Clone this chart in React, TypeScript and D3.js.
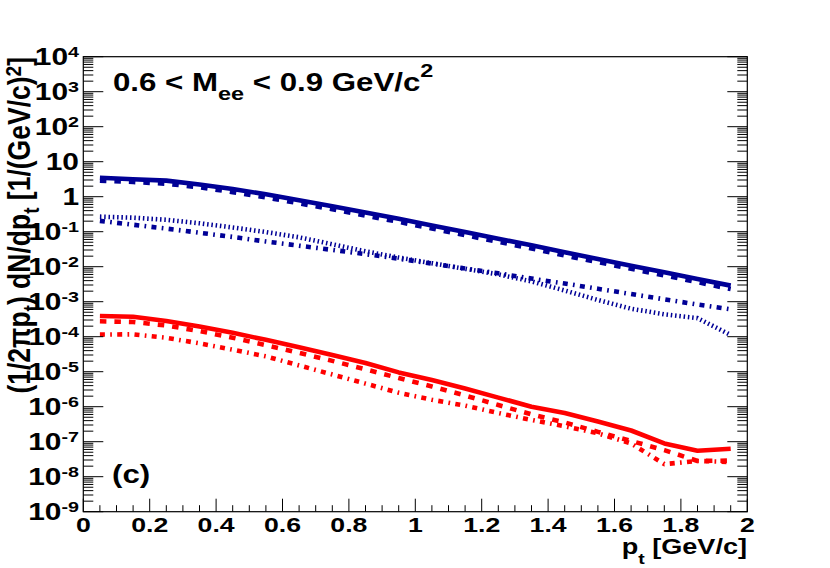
import * as d3 from "d3";

// bin centres in p_t [GeV/c]
const PT = [0.05, 0.15, 0.25, 0.35, 0.45, 0.55, 0.65, 0.75, 0.85, 0.95, 1.05, 1.15, 1.25, 1.35, 1.45, 1.55, 1.65, 1.75, 1.85, 1.95];

const BLUE_SOLID = [3.47, 3.16, 2.88, 2.24, 1.66, 1.17, 0.794, 0.537, 0.355, 0.234, 0.151, 0.0977, 0.0631, 0.0407, 0.0257, 0.0166, 0.0107, 0.00692, 0.00447, 0.00288];
const BLUE_DASHED = [2.88, 2.63, 2.34, 1.86, 1.35, 0.955, 0.646, 0.437, 0.288, 0.191, 0.123, 0.0794, 0.0513, 0.0331, 0.0209, 0.0135, 0.00871, 0.00562, 0.00363, 0.00229];
const BLUE_DOTTED = [0.269, 0.251, 0.219, 0.174, 0.132, 0.0977, 0.0692, 0.0437, 0.0275, 0.0182, 0.0126, 0.00871, 0.00603, 0.0038, 0.00209, 0.00112, 0.00063, 0.000437, 0.000339, 0.000112];
const BLUE_DASHDOT = [0.204, 0.158, 0.123, 0.0933, 0.0708, 0.0525, 0.0398, 0.0302, 0.0229, 0.017, 0.0123, 0.00891, 0.00646, 0.00457, 0.00331, 0.00234, 0.00166, 0.00117, 0.000832, 0.000603];

const RED_SOLID = [3.89e-4, 3.72e-4, 2.82e-4, 1.95e-4, 1.29e-4, 8.13e-5, 5.01e-5, 3.02e-5, 1.78e-5, 9.55e-6, 5.75e-6, 3.31e-6, 1.82e-6, 1.0e-6, 6.61e-7, 3.8e-7, 2.09e-7, 8.91e-8, 5.5e-8, 6.31e-8];
const RED_DASHED = [2.75e-4, 2.63e-4, 2.09e-4, 1.45e-4, 9.33e-5, 5.75e-5, 3.47e-5, 2.04e-5, 1.17e-5, 6.61e-6, 3.8e-6, 2.09e-6, 1.12e-6, 6.03e-7, 3.55e-7, 1.91e-7, 1.05e-7, 5.75e-8, 2.82e-8, 2.88e-8];
const RED_DASHDOT = [1.15e-4, 1.17e-4, 9.33e-5, 6.46e-5, 4.27e-5, 2.75e-5, 1.51e-5, 8.32e-6, 4.57e-6, 2.51e-6, 1.58e-6, 1.07e-6, 6.61e-7, 4.17e-7, 2.75e-7, 1.74e-7, 8.91e-8, 2.29e-8, 2.82e-8, 2.63e-8];

const X_MAJOR = [0, 0.2, 0.4, 0.6, 0.8, 1, 1.2, 1.4, 1.6, 1.8, 2];
const X_LABELS = ["0", "0.2", "0.4", "0.6", "0.8", "1", "1.2", "1.4", "1.6", "1.8", "2"];
const Y_EXPONENTS = [-9, -8, -7, -6, -5, -4, -3, -2, -1, 0, 1, 2, 3, 4];

const BLUE = "#000096";
const RED = "#ff0000";

const DASH: Record<string, string | undefined> = {
  solid: undefined,
  dashed: "6.5 8",
  dotted: "1.5 2.8",
  dashdot: "5 5.3 1.7 5.3",
};

const SERIES = [
  { values: BLUE_DASHDOT, color: BLUE, style: "dashdot" },
  { values: BLUE_DOTTED, color: BLUE, style: "dotted" },
  { values: BLUE_DASHED, color: BLUE, style: "dashed" },
  { values: BLUE_SOLID, color: BLUE, style: "solid" },
  { values: RED_DASHDOT, color: RED, style: "dashdot" },
  { values: RED_DASHED, color: RED, style: "dashed" },
  { values: RED_SOLID, color: RED, style: "solid" },
];

const FONT = "'Liberation Sans', Arial, Helvetica, sans-serif";
const W = 830;
const H = 568;
const L = 83.3, R = 747.3, T = 56.7, B = 511.7;
// the whole picture is wider than tall by about this much, so glyphs get it too
const STRETCH = 1.25;

type Part = { t: string; k?: "sub" | "sup" };

// ROOT-like latex text: bold helvetica, with sub/superscripts
function Tex({ x, y, parts, size, anchor = "start", rotate = 0, sx = STRETCH, sy = 1, supShift = 0.5, subShift = 0.4, small = 0.72 }: {
  x: number; y: number; parts: Part[]; size: number; anchor?: string; rotate?: number;
  sx?: number; sy?: number; supShift?: number; subShift?: number; small?: number;
}) {
  let cur = 0;
  return (
    <g transform={`translate(${x},${y}) rotate(${rotate}) scale(${sx},${sy})`}>
      <text fontFamily={FONT} fontWeight="bold" fontSize={size} textAnchor={anchor} fill="#000">
        {parts.map((p, i) => {
          const want = p.k === "sup" ? -supShift * size : p.k === "sub" ? subShift * size : 0;
          const dy = want - cur;
          cur = want;
          return (
            <tspan key={i} dy={dy} fontSize={p.k ? size * small : size}>
              {p.t}
            </tspan>
          );
        })}
      </text>
    </g>
  );
}

export default function App() {
  const x = d3.scaleLinear().domain([0, 2]).range([L, R]);
  const y = d3.scaleLog().domain([1e-9, 1e4]).range([B, T]);

  const line = d3
    .line<number>()
    .x((_, i) => x(PT[i]))
    .y((d) => y(d));

  const xMinor = d3.range(0, 41).map((i) => i * 0.05);
  const yMinor: number[] = [];
  Y_EXPONENTS.slice(0, -1).forEach((e) => {
    for (let k = 2; k <= 9; k++) yMinor.push(k * Math.pow(10, e));
  });

  return (
    <svg width={W} height={H} style={{ position: "absolute", left: 0, top: 0, background: "#fff" }}>
      <defs>
        <clipPath id="frame">
          <rect x={L} y={T} width={R - L} height={B - T} />
        </clipPath>
      </defs>
      <rect x={0} y={0} width={W} height={H} fill="#fff" />

      {/* curves */}
      <g clipPath="url(#frame)">
        {SERIES.map((s, i) => (
          <path
            key={i}
            d={line(s.values) ?? ""}
            fill="none"
            stroke={s.color}
            strokeWidth={4.6}
            strokeDasharray={DASH[s.style]}
            strokeLinejoin="round"
          />
        ))}
      </g>

      {/* frame */}
      <rect x={L} y={T} width={R - L} height={B - T} fill="none" stroke="#000" strokeWidth={1.2} />

      {/* x ticks */}
      {xMinor.map((v, i) => {
        const major = i % 4 === 0;
        return <line key={"xt" + i} x1={x(v)} x2={x(v)} y1={B} y2={B - (major ? 13 : 6.5)} stroke="#000" strokeWidth={1} />;
      })}
      {X_MAJOR.map((v, i) => (
        <Tex key={"xl" + i} x={x(v)} y={531.7} size={21} sx={1.27} anchor="middle" parts={[{ t: X_LABELS[i] }]} />
      ))}

      {/* y ticks, both sides */}
      {Y_EXPONENTS.map((e) => {
        const yy = y(Math.pow(10, e));
        return (
          <g key={"ym" + e}>
            <line x1={L} x2={L + 20} y1={yy} y2={yy} stroke="#000" strokeWidth={1} />
            <line x1={R} x2={R - 20} y1={yy} y2={yy} stroke="#000" strokeWidth={1} />
          </g>
        );
      })}
      {yMinor.map((v, i) => (
        <g key={"yn" + i}>
          <line x1={L} x2={L + 10} y1={y(v)} y2={y(v)} stroke="#000" strokeWidth={1} />
          <line x1={R} x2={R - 10} y1={y(v)} y2={y(v)} stroke="#000" strokeWidth={1} />
        </g>
      ))}
      {Y_EXPONENTS.map((e) => {
        const parts: Part[] = e === 0 ? [{ t: "1" }] : e === 1 ? [{ t: "10" }] : [{ t: "10" }, { t: String(e), k: "sup" }];
        return (
          <Tex key={"yl" + e} x={79} y={y(Math.pow(10, e)) + 8.3} size={23} sx={1.3} anchor="end" supShift={0.36} small={0.66} parts={parts} />
        );
      })}

      {/* axis titles */}
      <Tex
        x={747}
        y={554}
        size={21.5}
        sx={1.26}
        anchor="end"
        subShift={0.45}
        parts={[{ t: "p" }, { t: "t", k: "sub" }, { t: " [GeV/c]" }]}
      />
      <Tex
        x={30}
        y={57}
        size={26.5}
        sx={1}
        sy={STRETCH * 0.96}
        rotate={-90}
        anchor="end"
        subShift={0.28}
        supShift={0.27}
        parts={[
          { t: "(1/2πp" },
          { t: "t", k: "sub" },
          { t: ") dN/dp" },
          { t: "t", k: "sub" },
          { t: " [1/(GeV/c)" },
          { t: "2", k: "sup" },
          { t: "]" },
        ]}
      />

      {/* labels */}
      <Tex
        x={113}
        y={90.7}
        size={25}
        subShift={0.37}
        supShift={0.55}
        small={0.75}
        parts={[
          { t: "0.6 < M" },
          { t: "ee", k: "sub" },
          { t: " < 0.9 GeV/c" },
          { t: "2", k: "sup" },
        ]}
      />
      <Tex x={112} y={483} size={25} parts={[{ t: "(c)" }]} />
    </svg>
  );
}
